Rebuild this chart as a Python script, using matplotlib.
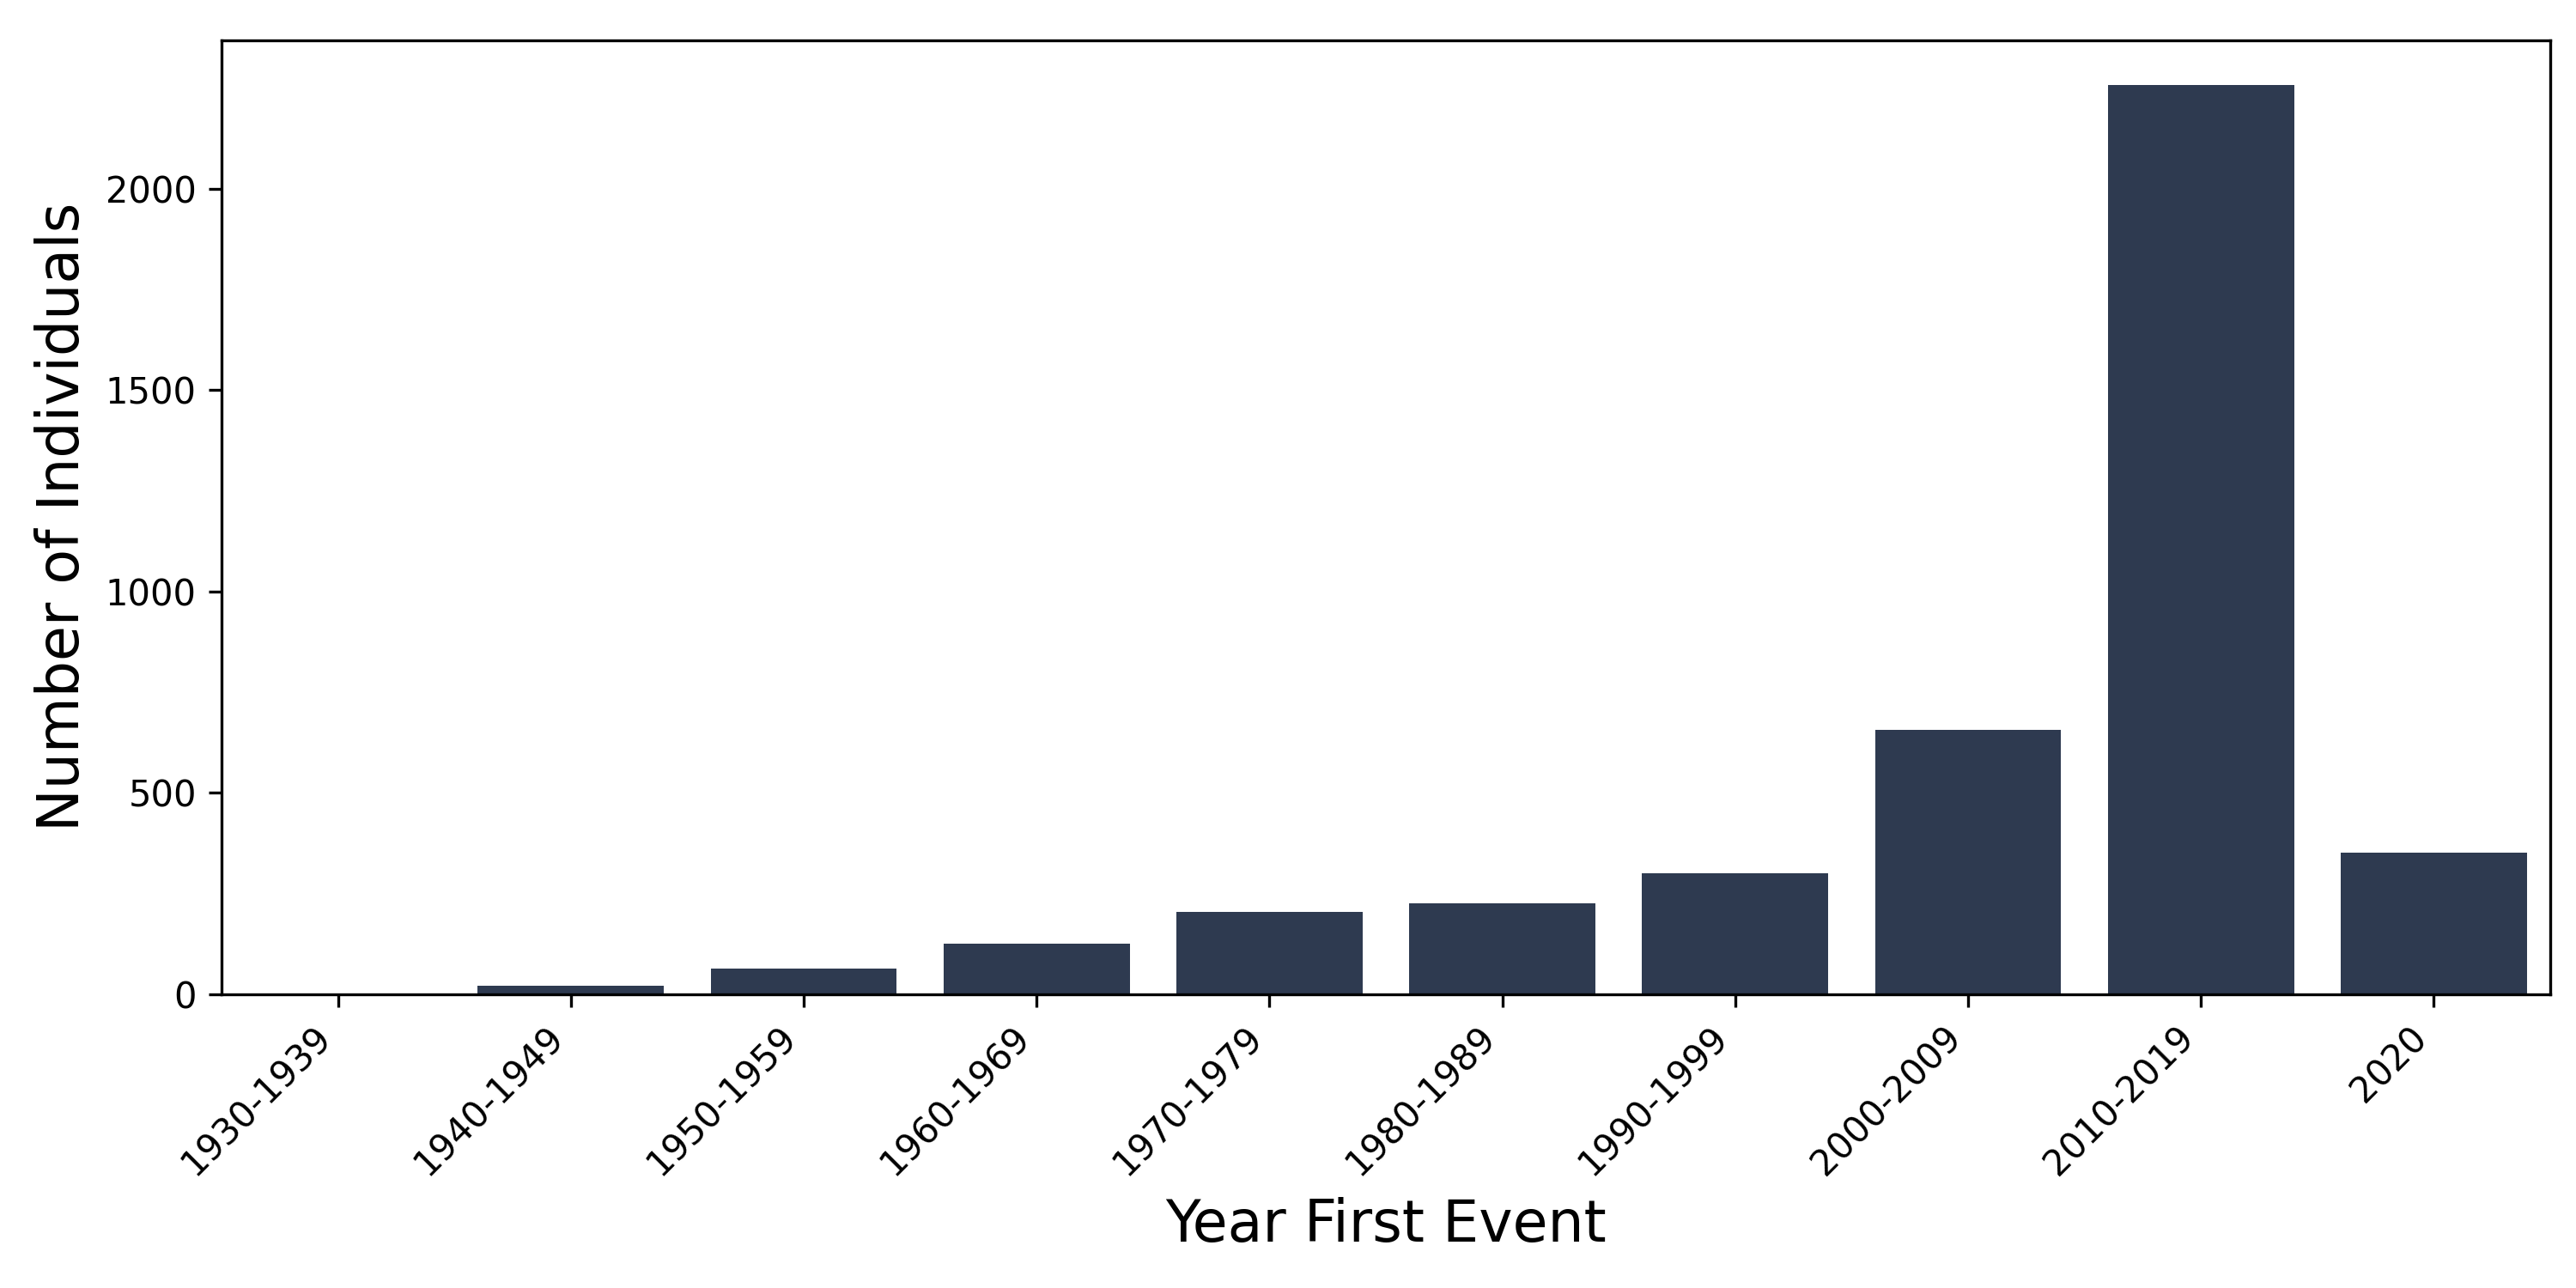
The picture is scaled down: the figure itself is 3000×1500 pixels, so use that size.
import matplotlib
matplotlib.use("Agg")
import matplotlib.pyplot as plt
import numpy as np

decades = ['1930-1939', '1940-1949', '1950-1959', '1960-1969', '1970-1979',
           '1980-1989', '1990-1999', '2000-2009', '2010-2019', '2020']
counts = [1, 22, 63, 125, 205, 225, 300, 656, 2256, 351]

fig, ax = plt.subplots(figsize=(10, 5), dpi=300)
x = np.arange(len(decades))
ax.bar(x, counts, width=0.8, color='#2e3a50')
ax.set_xlim(-0.5, len(decades) - 0.5)
ax.set_xticks(x)
ax.set_xticklabels(decades, rotation=45, ha='right')
ax.set_xlabel('Year First Event', fontsize=16)
ax.set_ylabel('Number of Individuals', fontsize=16)

plt.subplots_adjust(left=0.086, right=0.990, top=0.969, bottom=0.228)
plt.savefig('out.png')
